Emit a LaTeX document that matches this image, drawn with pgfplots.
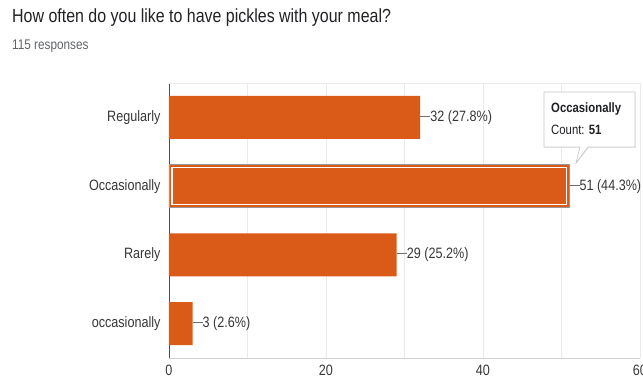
\documentclass[border=0pt]{standalone}
\usepackage{fontspec}
\setmainfont{Liberation Sans}[FakeStretch=0.84]
\usepackage{pgfplots}
\pgfplotsset{compat=1.18}
\usetikzlibrary{shadows}
\definecolor{barorange}{RGB}{218,90,24}
\definecolor{titlecol}{RGB}{32,33,36}
\definecolor{subcol}{RGB}{95,99,104}
\definecolor{labcol}{RGB}{55,55,55}
\definecolor{gridcol}{RGB}{235,235,235}
\definecolor{linecol}{RGB}{110,110,110}
\begin{document}
\begin{tikzpicture}
\node[anchor=base west, inner sep=0, font=\fontsize{19}{22}\selectfont, text=titlecol] at (12pt,-22.7pt) {How often do you like to have pickles with your meal?};
\node[anchor=base west, inner sep=0, font=\fontsize{14}{16}\selectfont, text=subcol] at (12pt,-50pt) {115 responses};
\begin{axis}[
  at={(169pt,-358pt)}, anchor=south west,
  scale only axis, width=471pt, height=275pt,
  xbar, bar width=0.625, bar shift=0pt,
  xmin=0, xmax=60, ymin=-0.5, ymax=3.5,
  xtick={0,20,40,60}, minor xtick={10,30,50},
  ytick={0,1,2,3}, yticklabels={occasionally,Rarely,Occasionally,Regularly},
  xmajorgrids, xminorgrids,
  major grid style={gridcol, line width=0.8pt},
  minor grid style={gridcol, line width=0.8pt},
  axis x line*=bottom, axis y line*=left,
  x axis line style={-, draw=black!18, line width=0.8pt},
  y axis line style={-, draw=black!70, line width=0.9pt},
  major tick length=0pt, minor tick length=0pt,
  tick label style={font=\fontsize{15}{18}\selectfont, text=labcol},
  yticklabel style={xshift=-5pt},
  xticklabel style={yshift=-3pt},
  /pgf/number format/assume math mode=true,
  clip=false,
]
\draw[gridcol, line width=0.8pt] (axis cs:0,3.5) -- (axis cs:60,3.5);
\addplot[fill=barorange, draw=none, point meta=explicit symbolic,
  nodes near coords={\textcolor{linecol}{\rule[0.3em]{10pt}{0.9pt}}\pgfplotspointmeta},
  nodes near coords style={anchor=west, inner sep=0pt, font=\fontsize{15}{18}\selectfont, text=labcol}]
  coordinates {(32,3) [32 (27.8\%)] (51,2) [51 (44.3\%)] (29,1) [29 (25.2\%)] (3,0) [3 (2.6\%)]};
\draw[black!40, line width=0.8pt] (axis cs:0,1.6875) rectangle (axis cs:51,2.3125);
\draw[white, line width=1.1pt] ([xshift=3pt,yshift=3pt]axis cs:0,1.6875) rectangle ([xshift=-3pt,yshift=-3pt]axis cs:51,2.3125);
\end{axis}
\draw[fill=white, draw=black!22, line width=0.7pt, drop shadow={opacity=0.15, shadow xshift=0.6pt, shadow yshift=-0.8pt}]
  (544pt,-92pt) -- (635pt,-92pt) -- (635pt,-147pt) -- (588pt,-147pt) -- (576pt,-163pt) -- (580pt,-147pt) -- (544pt,-147pt) -- cycle;
\node[anchor=base west, inner sep=0, font=\fontsize{13.5}{16}\selectfont\bfseries, text=titlecol] at (551pt,-113pt) {Occasionally};
\node[anchor=base west, inner sep=0, font=\fontsize{13.5}{16}\selectfont, text=titlecol] at (551pt,-135pt) {Count: \textbf{51}};
\pgfresetboundingbox
\useasboundingbox (0,0) rectangle (643pt,-385pt);
\end{tikzpicture}
\end{document}
